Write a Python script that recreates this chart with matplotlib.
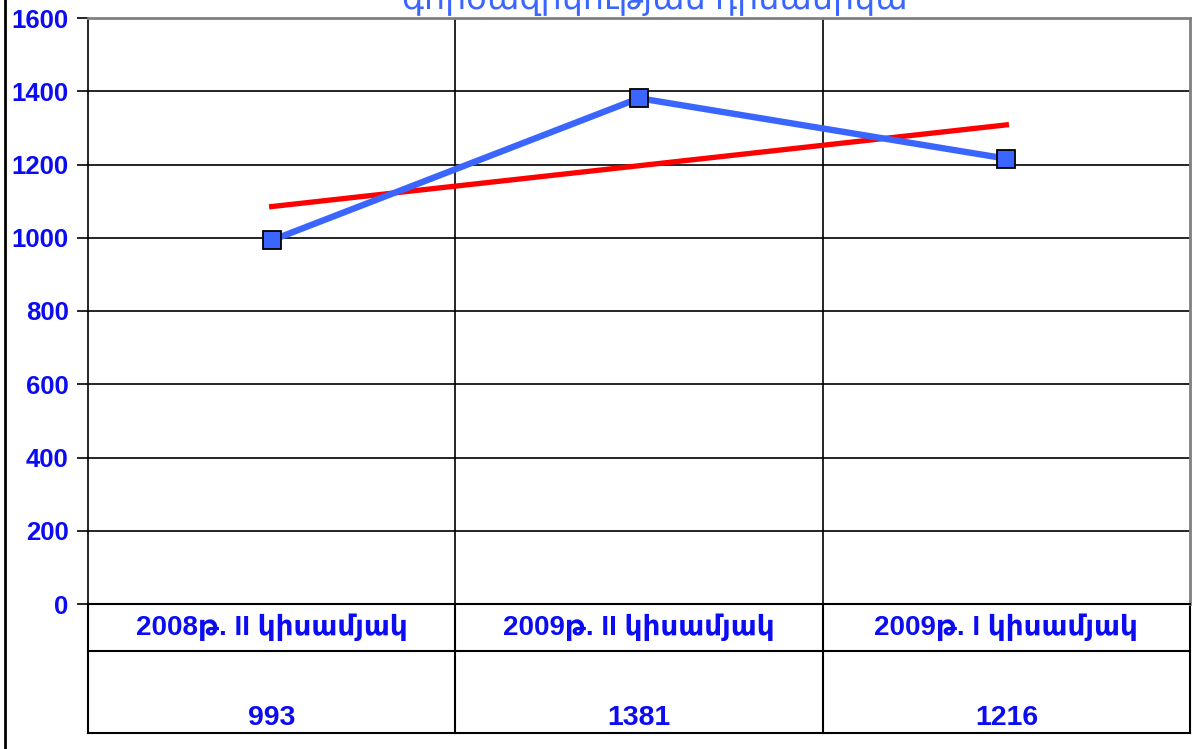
import numpy as np
import matplotlib
matplotlib.use("Agg")
import matplotlib.pyplot as plt
from matplotlib.lines import Line2D

plt.rcParams['font.family'] = ['Liberation Sans', 'DejaVu Sans']

# --- data ---
categories = ["2008թ. II կիսամյակ", "2009թ. II կիսամյակ", "2009թ. I կիսամյակ"]
values = [993, 1381, 1216]
y_ticks = [0, 200, 400, 600, 800, 1000, 1200, 1400, 1600]
title = "գործազրկության դինամիկա"

BLUE_TXT = "#0c0cf2"
LINE_BLUE = "#3a66ff"

fig = plt.figure(figsize=(11.94, 7.49), dpi=100)
ax = fig.add_axes([88 / 1194, 145 / 749, 1102 / 1194, 586 / 749])

x = np.arange(len(values))
ax.set_xlim(-0.5, len(values) - 0.5)
ax.set_ylim(0, 1600)

# horizontal grid
for t in y_ticks[1:-1]:
    ax.axhline(t, color="black", lw=1.2, zorder=1)
# vertical separators
for xv in x[:-1] + 0.5:
    ax.axvline(xv, color="black", lw=1.2, zorder=1)

# data line
ax.plot(x, values, color=LINE_BLUE, lw=4.6, marker="s", markersize=12.5,
        markerfacecolor=LINE_BLUE, markeredgecolor="black", markeredgewidth=1.3, zorder=4)

# linear trend
k, b = np.polyfit(x, values, 1)
ax.plot(x, k * x + b, color="red", lw=3.8, zorder=3)

ax.set_yticks(y_ticks)
ax.set_yticklabels([str(t) for t in y_ticks], color=BLUE_TXT, fontsize=18.5, fontweight="bold")
ax.tick_params(axis="y", length=8, width=1.2, pad=6)
ax.set_xticks([])

ax.spines["left"].set_color("black")
ax.spines["left"].set_linewidth(1.2)
ax.spines["bottom"].set_color("black")
ax.spines["bottom"].set_linewidth(1.5)
ax.spines["top"].set_color("#808080")
ax.spines["top"].set_linewidth(2)
ax.spines["right"].set_color("#808080")
ax.spines["right"].set_linewidth(2)

# data table below the axes
r1 = -47 / 586
r2 = -129 / 586
for yy in [r1, r2]:
    ax.plot([0, 1], [yy, yy], transform=ax.transAxes, color="black", lw=1.5, clip_on=False)
for xx in [0, 1 / 3, 2 / 3, 1]:
    ax.plot([xx, xx], [0, r2], transform=ax.transAxes, color="black", lw=1.5, clip_on=False)
for i, (c, v) in enumerate(zip(categories, values)):
    xc = (i + 0.5) / len(values)
    ax.text(xc, r1 / 2, c, transform=ax.transAxes, ha="center", va="center",
            color=BLUE_TXT, fontsize=20, fontweight="bold")
    ax.text(xc, r2 + 0.004, str(v), transform=ax.transAxes, ha="center", va="bottom",
            color=BLUE_TXT, fontsize=20.5, fontweight="bold")

# clipped title at the very top
fig.text(655 / 1194, 1.0, title, ha="center", va="center", color=LINE_BLUE, fontsize=24)

# outer frame line on the left
fig.add_artist(Line2D([5 / 1194, 5 / 1194], [0, 1], transform=fig.transFigure,
                      color="black", lw=2))

fig.savefig("out.png", dpi=100)
